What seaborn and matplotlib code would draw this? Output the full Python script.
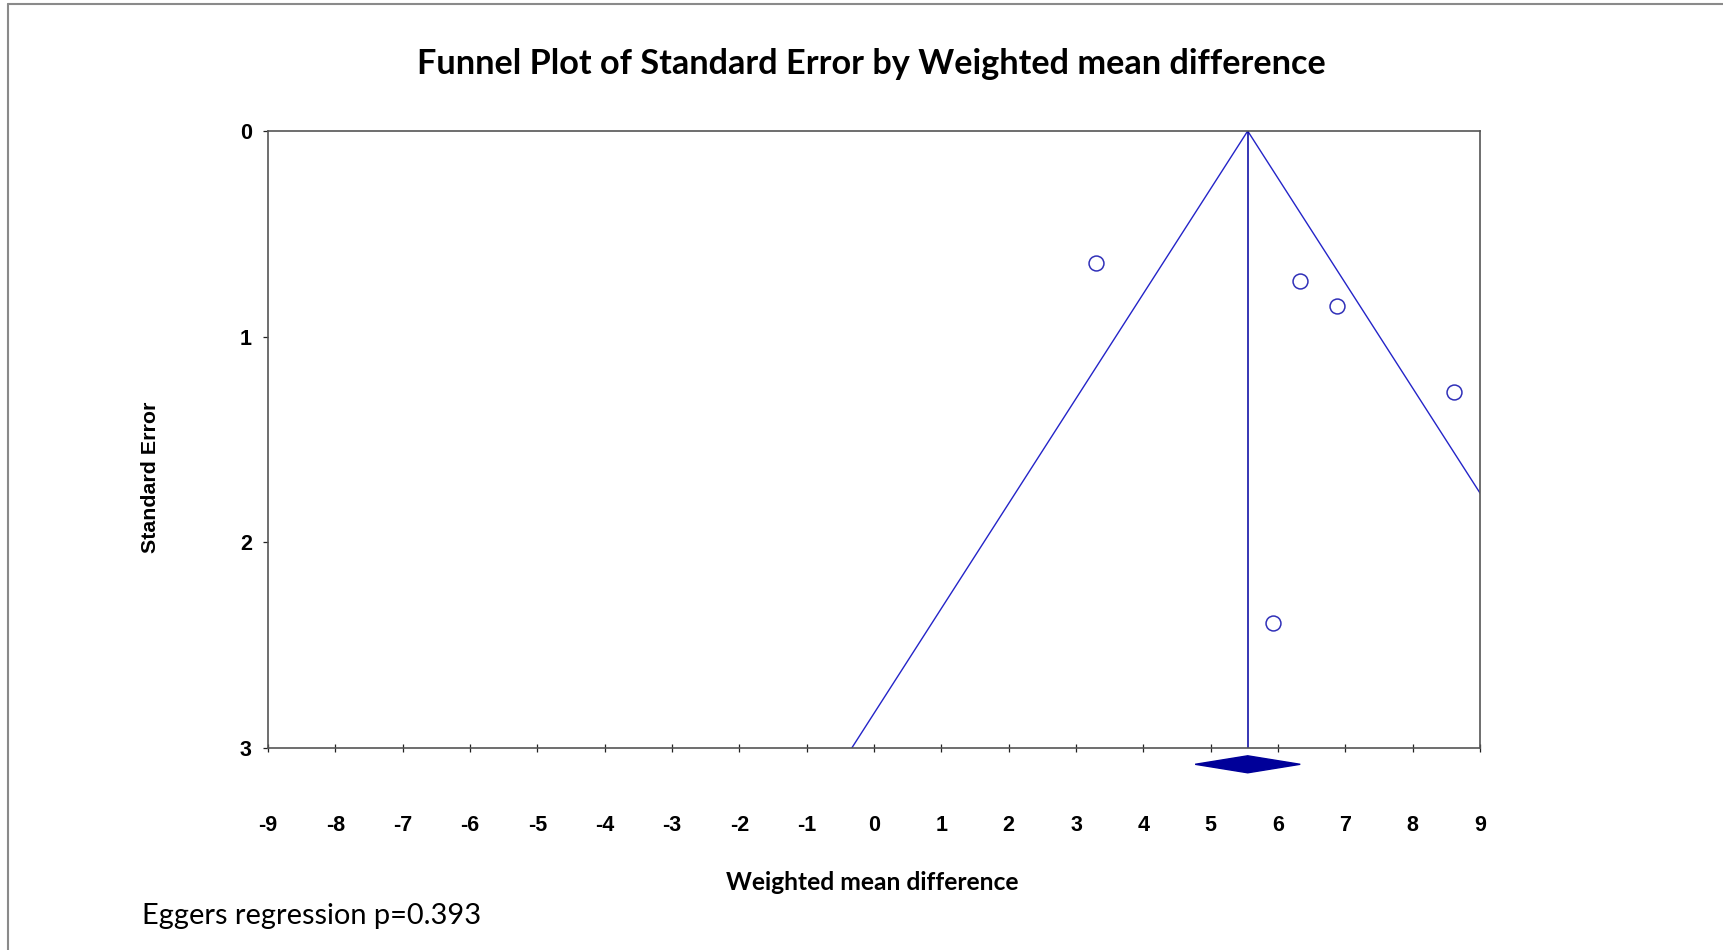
import numpy as np
import pandas as pd
import matplotlib
matplotlib.use("Agg")
import matplotlib.pyplot as plt
from matplotlib.lines import Line2D
import seaborn as sns

# ---- data ----
effect = [3.30, 6.32, 6.87, 8.61, 5.93]
std_err = [0.641, 0.728, 0.851, 1.271, 2.39]
pooled = 5.55
ci_low, ci_high = 4.77, 6.33
z_value = 1.96
se_max = 3.0
x_ticks = list(range(-9, 10))
y_ticks = [0, 1, 2, 3]

title = "Funnel Plot of Standard Error by Weighted mean difference"
xlabel = "Weighted mean difference"
ylabel = "Standard Error"
note = "Eggers regression p=0.393"

sns.set_theme(style="white")
plt.rcParams["font.family"] = ["Liberation Sans", "DejaVu Sans"]
CAL = ["Lato", "DejaVu Sans"]
TICK_FS = 15.5

W, H = 1724, 950
fig = plt.figure(figsize=(W / 100, H / 100), dpi=100)
fig.patch.set_facecolor("white")
ax = fig.add_axes([268 / W, 1 - 748 / H, (1480 - 268) / W, (748 - 131) / H])

df = pd.DataFrame({"effect": effect, "se": std_err})
funnel = pd.DataFrame({
    "x": [pooled - z_value * se_max, pooled, pooled + z_value * se_max],
    "y": [se_max, 0, se_max],
})

sns.lineplot(data=funnel, x="x", y="y", sort=False, estimator=None,
             color="#2424c8", linewidth=1.0, ax=ax, zorder=2)
ax.axvline(pooled, color="#0000a0", linewidth=1.1, zorder=2)
sns.scatterplot(data=df, x="effect", y="se", ax=ax, marker="o", s=115,
                facecolor="white", edgecolor="#3030b8", linewidth=1.1,
                zorder=3)

# summary diamond below the axis
trans = ax.get_xaxis_transform()
yc, hh = -16.3 / 617, 8.5 / 617
ax.fill([ci_low, pooled, ci_high, pooled], [yc, yc + hh, yc, yc - hh],
        transform=trans, color="#000099", clip_on=False, zorder=4)

ax.set_xlim(-9, 9)
ax.set_ylim(se_max, 0)
ax.tick_params(axis="x", bottom=True, direction="inout", length=5.8,
               width=0.9, color="#222222", pad=45.5, labelsize=TICK_FS,
               labelcolor="black")
ax.tick_params(axis="y", left=True, direction="out", length=3.6,
               width=0.9, color="#222222", pad=8, labelsize=TICK_FS,
               labelcolor="black")
ax.set_xticks(x_ticks)
ax.set_xticklabels([str(t) for t in x_ticks], fontweight="bold",
                   fontsize=TICK_FS)
ax.set_yticks(y_ticks)
ax.set_yticklabels([str(t) for t in y_ticks], fontweight="bold",
                   fontsize=TICK_FS)
for sp in ax.spines.values():
    sp.set_visible(True)
    sp.set_color("#555555")
    sp.set_linewidth(1.2)
ax.grid(False)

ax.set_xlabel(xlabel, family=CAL, fontweight="bold", fontsize=16,
              color="black", va="center")
ax.xaxis.set_label_coords((872 - 268) / 1212, (748 - 883) / 617)
ax.set_ylabel(ylabel, fontweight="bold", fontsize=15, color="black",
              va="center")
ax.yaxis.set_label_coords((151 - 268) / 1212, 1 - (477.7 - 131) / 617)

t_title = fig.text(871 / W, 1 - 64 / H, title, ha="center", va="center",
                   family=CAL, fontweight="bold", fontsize=21, color="black")
t_note = fig.text(142 / W, 1 - 916 / H, note, ha="left", va="center",
                  family=CAL, fontsize=19, color="black")

# border lines of the original image
fig.add_artist(Line2D([8 / W, 1], [1 - 4.3 / H] * 2, transform=fig.transFigure,
                      color="#8a8a8a", linewidth=1.5))
fig.add_artist(Line2D([8 / W] * 2, [0, 1 - 4.3 / H], transform=fig.transFigure,
                      color="#8a8a8a", linewidth=1.5))


def fit(t, target, use_height=False):
    fig.canvas.draw()
    r = fig.canvas.get_renderer()
    bb = t.get_window_extent(r)
    cur = bb.height if use_height else bb.width
    t.set_fontsize(t.get_fontsize() * target / cur)


fit(t_title, 909)
fit(t_note, 340)
fit(ax.xaxis.label, 294)
fit(ax.yaxis.label, 151, use_height=True)

fig.savefig("out.png", dpi=100)
